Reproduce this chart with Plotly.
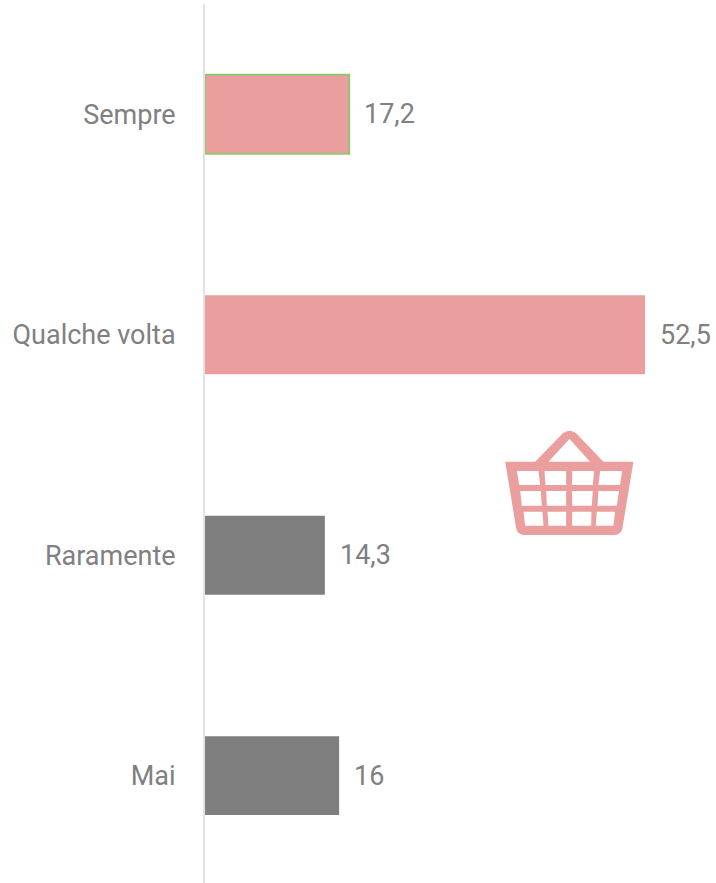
import plotly.graph_objects as go

categories = ["Sempre", "Qualche volta", "Raramente", "Mai"]
values = [17.2, 52.5, 14.3, 16]
value_labels = ["17,2", "52,5", "14,3", "16"]
bar_colors = ["#EA9E9E", "#EA9E9E", "#7F7F7F", "#7F7F7F"]
line_colors = ["#92C66E", "rgba(0,0,0,0)", "rgba(0,0,0,0)", "rgba(0,0,0,0)"]
line_widths = [2, 0, 0, 0]

W, H = 716, 883
L, T = 204.5, 4
PX_PER_UNIT = 8.39
FONT = "Roboto, Liberation Sans, sans-serif"
TEXT = "#808080"


def px(x, y):
    return f"{(x - L) / (W - L):.5f},{1 - (y - T) / (H - T):.5f}"


def zoomed(x, y):
    return px(490 + x / 3, 420 + y / 3)


def poly(points):
    return "M" + " L".join(zoomed(*p) for p in points) + " Z"


outer_path = (
    f"M{zoomed(45, 125)} L{zoomed(135, 125)} L{zoomed(218, 40)} "
    f"Q{zoomed(238, 24)} {zoomed(258, 40)} L{zoomed(340, 125)} L{zoomed(430, 125)} "
    f"L{zoomed(397, 325)} Q{zoomed(393, 345)} {zoomed(372, 345)} L{zoomed(103, 345)} "
    f"Q{zoomed(82, 345)} {zoomed(78, 325)} Z"
)
inner = [(175, 125), (238, 57), (300, 125)]
cells = [
    [(80, 153), (145, 153), (150, 195), (87, 195)],
    [(163, 153), (228, 153), (228, 195), (166, 195)],
    [(246, 153), (312, 153), (308, 195), (246, 195)],
    [(330, 153), (396, 153), (390, 195), (325, 195)],
    [(90, 213), (152, 213), (155, 257), (95, 257)],
    [(168, 213), (228, 213), (228, 257), (170, 257)],
    [(246, 213), (308, 213), (305, 257), (246, 257)],
    [(325, 213), (387, 213), (380, 257), (322, 257)],
    [(100, 275), (157, 275), (160, 317), (105, 317)],
    [(172, 275), (228, 275), (228, 317), (175, 317)],
    [(246, 275), (304, 275), (303, 317), (246, 317)],
    [(320, 275), (375, 275), (370, 317), (317, 317)],
]
basket_path = outer_path + " " + " ".join(poly(p) for p in [inner] + cells)

fig = go.Figure(
    go.Bar(
        y=list(range(len(categories))),
        x=values,
        orientation="h",
        width=0.358,
        marker=dict(color=bar_colors, line=dict(color=line_colors, width=line_widths)),
        hoverinfo="skip",
    )
)

for i, (v, lab) in enumerate(zip(values, value_labels)):
    fig.add_annotation(
        x=v, y=i, text=lab, showarrow=False, xanchor="left", yanchor="middle", xshift=13,
        font=dict(family=FONT, size=27, color=TEXT),
    )

fig.add_shape(
    type="path", xref="paper", yref="paper", path=basket_path,
    fillcolor="#EA9E9E", line=dict(width=0), fillrule="evenodd", layer="above",
)

fig.update_layout(
    width=W,
    height=H,
    margin=dict(l=L, r=0, t=T, b=0, pad=0),
    paper_bgcolor="white",
    plot_bgcolor="white",
    showlegend=False,
    xaxis=dict(range=[0, (W - L) / PX_PER_UNIT], visible=False, fixedrange=True),
    yaxis=dict(
        range=[3.487, -0.5],
        tickmode="array",
        tickvals=list(range(len(categories))),
        ticktext=categories,
        ticks="",
        ticklabelstandoff=22,
        tickfont=dict(family=FONT, size=27, color=TEXT),
        showline=True,
        linecolor="#E2E2E2",
        linewidth=2,
        showgrid=False,
        zeroline=False,
        fixedrange=True,
        automargin=False,
    ),
)

fig.write_html(
    "out.html",
    config=dict(displayModeBar=False),
    post_script="document.body.style.margin='0';",
)
